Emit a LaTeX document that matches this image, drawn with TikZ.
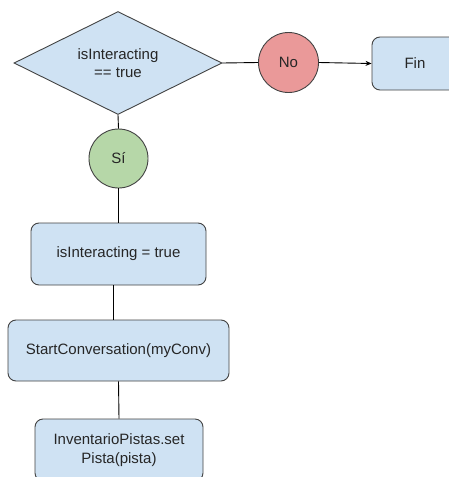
\documentclass[tikz,border=0pt]{standalone}
\usepackage{fontspec}
\setmainfont{Liberation Sans}
\usetikzlibrary{shapes.geometric,arrows.meta}
\definecolor{boxblue}{HTML}{CFE2F3}
\definecolor{nored}{HTML}{EA9999}
\definecolor{yesgreen}{HTML}{B6D7A8}
\definecolor{edgegray}{HTML}{434343}
\definecolor{inkgray}{HTML}{262626}
\tikzset{
  shapebase/.style={draw=edgegray, line width=0.9pt, text=inkgray, align=center,
    font=\fontsize{15}{18.5}\selectfont, inner sep=0pt},
  procbox/.style={shapebase, fill=boxblue, rectangle, rounded corners=8pt},
  decision/.style={shapebase, fill=boxblue, diamond, aspect=2},
  answer/.style={shapebase, circle},
  link/.style={draw=black, line width=0.9pt},
}
\begin{document}
\begin{tikzpicture}[x=1pt, y=-1pt]
\useasboundingbox (0,0) rectangle (449,477);
\clip (0,0) rectangle (449,477);
\fill[white] (0,0) rectangle (449,477);

% decision and its two branches
\node[decision, minimum width=208pt, minimum height=103pt] (cond) at (118,63) {isInteracting\\== true};
\node[answer, fill=nored, minimum size=60pt] (no) at (288.5,62.5) {No};
\node[procbox, minimum width=86pt, minimum height=53pt] (fin) at (415,63.5) {Fin};
\node[answer, fill=yesgreen, minimum size=59pt] (yes) at (118.5,158.5) {Sí};

% action sequence
\node[procbox, minimum width=175pt, minimum height=62pt] (setflag) at (118.5,254) {isInteracting = true};
\node[procbox, minimum width=221pt, minimum height=61pt] (startconv) at (118.5,350.5) {StartConversation(myConv)};
\node[procbox, minimum width=168pt, minimum height=62pt] (pista) at (119,450) {InventarioPistas.set\\Pista(pista)};

% connectors
\draw[link] (cond.east) -- (no.west);
\draw[link, -{Stealth[length=6pt, width=5pt]}] (no.east) -- (fin.west);
\draw[link] (cond.south) -- (yes.north);
\draw[link] (yes.south) -- (setflag.north);
\draw[link] ([xshift=-5.5pt]setflag.south) -- ([xshift=-5.5pt]startconv.north);
\draw[link] (startconv.south) -- (pista.north);
\end{tikzpicture}
\end{document}
